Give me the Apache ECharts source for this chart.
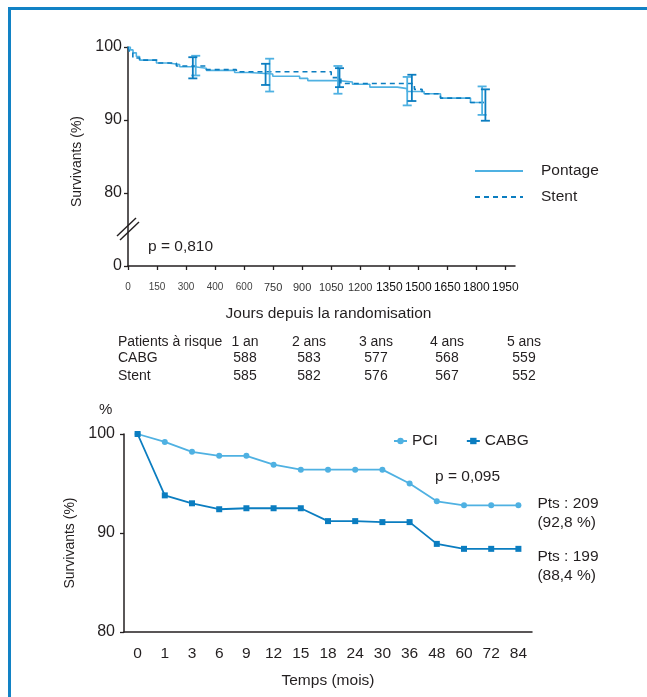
<!DOCTYPE html>
<html>
<head>
<meta charset="utf-8">
<script src="https://cdn.jsdelivr.net/npm/echarts@6/dist/echarts.min.js"></script>
<style>
  html, body { margin: 0; padding: 0; background: #fff; }
  #chart { width: 647px; height: 697px; }
</style>
</head>
<body>
<div id="chart"></div>
<script>
// ---- top panel: Kaplan-Meier (days) ----
const dayTickStep = 150;
const dayTickLabels = ['0', '150', '300', '400', '600', '750', '900', '1050', '1200', '1350', '1500', '1650', '1800', '1950'];
const survTicks = [70, 80, 90, 100];
const survTickLabels = ['0', '80', '90', '100'];

// [day, survival %] step points
const pontage = [
  [0, 100], [12, 99.6], [26, 99.2], [43, 98.7], [60, 98.2], [147, 97.8], [207, 97.6], [267, 97.3],
  [344, 97.1], [405, 96.8], [551, 96.5], [627, 96.3], [748, 96.0], [887, 95.7], [929, 95.4],
  [1090, 95.2], [1160, 94.9], [1250, 94.5], [1392, 94.3], [1443, 93.9], [1530, 93.6],
  [1615, 93.0], [1770, 92.4], [1840, 92.4]
];
const stent = [
  [0, 100], [8, 99.3], [25, 98.5], [60, 98.2], [150, 97.8], [250, 97.4], [405, 96.9],
  [560, 96.6], [1050, 95.8], [1100, 95.0], [1480, 94.2], [1520, 93.6], [1615, 93.0],
  [1770, 92.4], [1845, 92.4]
];
// [day, low, high]
const pontageCI = [[350, 96.1, 98.8], [732, 93.9, 98.4], [1085, 93.6, 97.4], [1443, 92.0, 95.9], [1830, 90.7, 94.6]];
const stentCI = [[335, 95.7, 98.6], [711, 94.8, 97.7], [1093, 94.5, 97.1], [1467, 92.6, 96.2], [1847, 89.9, 94.2]];

// patients at risk
const riskYears = ['1 an', '2 ans', '3 ans', '4 ans', '5 ans'];
const riskCABG = [588, 583, 577, 568, 559];
const riskStent = [585, 582, 576, 567, 552];

// ---- bottom panel (months) ----
const months = ['0', '1', '3', '6', '9', '12', '15', '18', '24', '30', '36', '48', '60', '72', '84'];
const pciSurv = [100, 99.2, 98.2, 97.8, 97.8, 96.9, 96.4, 96.4, 96.4, 96.4, 95.0, 93.2, 92.8, 92.8, 92.8];
const cabgSurv = [100, 93.8, 93.0, 92.4, 92.5, 92.5, 92.5, 91.2, 91.2, 91.1, 91.1, 88.9, 88.4, 88.4, 88.4];
const pciPts = 209;
const cabgPts = 199;

const LIGHT = '#4fb1e2';
const DARK = '#0b7dc0';
const INK = '#231f20';
const FONT = '"Liberation Sans", Arial, sans-serif';

const chart = echarts.init(document.getElementById('chart'));

const fmtPct = v => String(v.toFixed(1)).replace('.', ',');

const errorBar = (color, width) => (params, api) => {
  const top = api.coord([api.value(0), api.value(2)]);
  const bot = api.coord([api.value(0), api.value(1)]);
  const w = 4.5;
  const style = { stroke: color, lineWidth: width };
  return {
    type: 'group',
    children: [
      { type: 'line', shape: { x1: top[0], y1: top[1], x2: bot[0], y2: bot[1] }, style },
      { type: 'line', shape: { x1: top[0] - w, y1: top[1], x2: top[0] + w, y2: top[1] }, style },
      { type: 'line', shape: { x1: bot[0] - w, y1: bot[1], x2: bot[0] + w, y2: bot[1] }, style }
    ]
  };
};

const axisLine = { lineStyle: { color: INK, width: 1.5 } };
const axisTick = { length: 4, lineStyle: { color: INK, width: 1.3 } };

// risk table columns (layout only)
const colX = [245, 309, 376, 447, 524];
const rowY = [342, 358, 376];
const riskText = [];
const cell = (x, y, text, align) => ({
  type: 'text', x, y,
  style: { text, font: '14px ' + FONT, fill: INK, align, verticalAlign: 'middle' }
});
riskText.push(cell(118, rowY[0], 'Patients à risque', 'left'));
riskText.push(cell(118, rowY[1], 'CABG', 'left'));
riskText.push(cell(118, rowY[2], 'Stent', 'left'));
riskYears.forEach((t, i) => {
  riskText.push(cell(colX[i], rowY[0], t, 'center'));
  riskText.push(cell(colX[i], rowY[1], String(riskCABG[i]), 'center'));
  riskText.push(cell(colX[i], rowY[2], String(riskStent[i]), 'center'));
});

const option = {
  animation: false,
  backgroundColor: '#fff',
  textStyle: { fontFamily: FONT, color: INK },
  grid: [
    { left: 128, top: 47, width: 387, height: 219 },
    { left: 124, top: 434, width: 408, height: 198 }
  ],
  legend: [
    {
      data: ['Pontage', 'Stent'],
      orient: 'vertical',
      left: 469, top: 158,
      itemWidth: 48, itemHeight: 14, itemGap: 10,
      itemStyle: { opacity: 0 },
      textStyle: { fontSize: 15.5, color: INK, padding: [0, 0, 0, 13] }
    },
    {
      data: ['PCI', 'CABG'],
      left: 388, top: 428,
      itemWidth: 13, itemHeight: 8, itemGap: 28,
      textStyle: { fontSize: 15.5, color: INK }
    }
  ],
  xAxis: [
    {
      gridIndex: 0, type: 'value', min: 0, max: 2000,
      axisLine, axisTick: { ...axisTick, customValues: dayTickLabels.map((_, i) => i * dayTickStep) },
      splitLine: { show: false },
      axisLabel: {
        customValues: dayTickLabels.map((_, i) => i * dayTickStep),
        margin: 16,
        formatter: v => {
          const i = Math.round(v / dayTickStep);
          return (i < 5 ? '{a|' : i < 9 ? '{b|' : '{c|') + dayTickLabels[i] + '}';
        },
        rich: {
          a: { fontSize: 10, color: '#444', fontFamily: FONT },
          b: { fontSize: 11, color: '#333', fontFamily: FONT },
          c: { fontSize: 12, color: '#111', fontFamily: FONT }
        }
      },
      name: 'Jours depuis la randomisation',
      nameLocation: 'middle', nameGap: 40,
      nameTextStyle: { fontSize: 15.5, color: INK, padding: [0, 0, 0, 14] }
    },
    {
      gridIndex: 1, type: 'category', data: months, boundaryGap: true,
      axisLine, axisTick,
      axisLabel: { interval: 0, fontSize: 15.5, color: INK, margin: 14 },
      name: 'Temps (mois)',
      nameLocation: 'middle', nameGap: 41,
      nameTextStyle: { fontSize: 15.5, color: INK }
    }
  ],
  yAxis: [
    {
      gridIndex: 0, type: 'value', min: 70, max: 100, interval: 10,
      axisLine: { show: true, ...axisLine }, axisTick: { show: true, ...axisTick },
      splitLine: { show: false },
      axisLabel: {
        fontSize: 16, color: INK, margin: 6,
        formatter: v => survTickLabels[survTicks.indexOf(v)]
      },
      name: 'Survivants (%)', nameLocation: 'middle', nameGap: 43,
      nameTextStyle: { fontSize: 14, color: INK, padding: [0, 10, 0, 0] }
    },
    {
      gridIndex: 1, type: 'value', min: 80, max: 100, interval: 10,
      axisLine: { show: true, ...axisLine }, axisTick: { show: true, ...axisTick },
      splitLine: { show: false },
      axisLabel: { fontSize: 16, color: INK, margin: 9 },
      name: 'Survivants (%)', nameLocation: 'middle', nameGap: 38,
      nameTextStyle: { fontSize: 14, color: INK, padding: [0, 20, 0, 0] }
    }
  ],
  series: [
    {
      name: 'Pontage', type: 'line', step: 'end', xAxisIndex: 0, yAxisIndex: 0,
      data: pontage, showSymbol: false, symbol: 'none',
      lineStyle: { color: LIGHT, width: 1.6 }, itemStyle: { color: LIGHT }, z: 3
    },
    {
      name: 'Stent', type: 'line', step: 'end', xAxisIndex: 0, yAxisIndex: 0,
      data: stent, showSymbol: false, symbol: 'none',
      lineStyle: { color: DARK, width: 1.6, type: [5, 4] }, itemStyle: { color: DARK }, z: 4
    },
    {
      type: 'custom', xAxisIndex: 0, yAxisIndex: 0, data: pontageCI,
      renderItem: errorBar(LIGHT, 1.8), z: 5
    },
    {
      type: 'custom', xAxisIndex: 0, yAxisIndex: 0, data: stentCI,
      renderItem: errorBar(DARK, 1.8), z: 6
    },
    {
      name: 'PCI', type: 'line', xAxisIndex: 1, yAxisIndex: 1,
      data: pciSurv, symbol: 'circle', symbolSize: 6,
      lineStyle: { color: LIGHT, width: 1.8 }, itemStyle: { color: LIGHT },
      endLabel: {
        show: true, offset: [11, 8], fontSize: 15.5, color: INK, lineHeight: 19,
        formatter: () => `Pts : ${pciPts}\n(${fmtPct(pciSurv[pciSurv.length - 1])} %)`
      }
    },
    {
      name: 'CABG', type: 'line', xAxisIndex: 1, yAxisIndex: 1,
      data: cabgSurv, symbol: 'rect', symbolSize: 6,
      lineStyle: { color: DARK, width: 1.8 }, itemStyle: { color: DARK },
      endLabel: {
        show: true, offset: [11, 17], fontSize: 15.5, color: INK, lineHeight: 19,
        formatter: () => `Pts : ${cabgPts}\n(${fmtPct(cabgSurv[cabgSurv.length - 1])} %)`
      }
    }
  ],
  graphic: [
    // blue frame
    { type: 'rect', shape: { x: 9.5, y: 8.5, width: 700, height: 720 }, style: { fill: null, stroke: '#1282c5', lineWidth: 3 }, silent: true },
    // axis break marks
    { type: 'line', shape: { x1: 117, y1: 236, x2: 136, y2: 218 }, style: { stroke: INK, lineWidth: 1.4 } },
    { type: 'line', shape: { x1: 120, y1: 240, x2: 139, y2: 222 }, style: { stroke: INK, lineWidth: 1.4 } },
    { type: 'text', left: 148, top: 239, style: { text: 'p = 0,810', font: '15.5px ' + FONT, fill: INK } },
    { type: 'text', left: 435, top: 469, style: { text: 'p = 0,095', font: '15.5px ' + FONT, fill: INK } },
    { type: 'text', left: 99, top: 402, style: { text: '%', font: '15px ' + FONT, fill: INK } },
    ...riskText
  ]
};

chart.setOption(option);
</script>
</body>
</html>
